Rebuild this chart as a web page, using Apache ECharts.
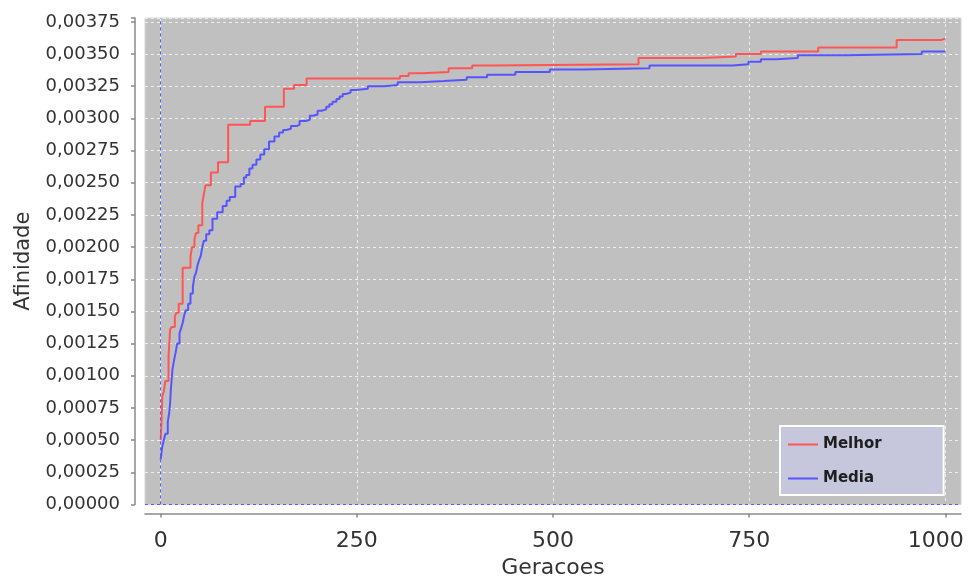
<!DOCTYPE html>
<html>
<head>
<meta charset="utf-8">
<script src="https://cdn.jsdelivr.net/npm/echarts@6/dist/echarts.min.js"></script>
<style>
  html, body { margin: 0; padding: 0; background: #ffffff; }
  #chart { width: 968px; height: 578px; }
</style>
</head>
<body>
<div id="chart"></div>
<script>
// Best affinity per generation ([generation, affinity]); held until the next change
const melhor = [
  [0, 0.00050], [1, 0.00064], [2, 0.00084], [4, 0.00088], [6, 0.00096],
  [10, 0.00115], [12, 0.00136], [14, 0.00138], [18, 0.00146], [20, 0.00149],
  [23, 0.00156], [28, 0.00184], [38, 0.00193], [40, 0.00200], [43, 0.00206],
  [45, 0.00211], [48, 0.00217], [53, 0.00234], [55, 0.00241], [57, 0.00248],
  [64, 0.00258], [73, 0.00266], [86, 0.00295], [114, 0.00298], [133, 0.00309],
  [157, 0.00323], [170, 0.00326], [186, 0.00331], [305, 0.00333], [316, 0.00335],
  [333, 0.00336], [367, 0.00339], [397, 0.00341], [421, 0.00342], [609, 0.00347],
  [690, 0.00348], [733, 0.00350], [765, 0.00352], [838, 0.00355], [938, 0.00361],
  [995, 0.00362], [1000, 0.00362]
];

// Mean affinity of the population per generation
const media = [
  [0, 0.00035], [1, 0.00040], [2, 0.00045], [4, 0.00050], [6, 0.00055],
  [9, 0.00064], [11, 0.00072], [12, 0.00079], [13, 0.00090], [14, 0.00097],
  [15, 0.00105], [17, 0.00112], [19, 0.00118], [21, 0.00125], [24, 0.00133],
  [26, 0.00137], [28, 0.00141], [30, 0.00147], [32, 0.00151], [35, 0.00156],
  [38, 0.00164], [41, 0.00169], [43, 0.00177], [45, 0.00180], [47, 0.00186],
  [49, 0.00190], [51, 0.00193], [53, 0.00200], [55, 0.00205], [58, 0.00210],
  [62, 0.00213], [66, 0.00222], [72, 0.00227], [79, 0.00232], [84, 0.00236],
  [88, 0.00239], [95, 0.00247], [102, 0.00249], [106, 0.00254], [109, 0.00256],
  [113, 0.00261], [117, 0.00264], [122, 0.00268], [127, 0.00272], [132, 0.00276],
  [138, 0.00282], [145, 0.00286], [151, 0.00289], [156, 0.00291], [160, 0.00292],
  [166, 0.00294], [173, 0.00295], [177, 0.00298], [185, 0.00299], [190, 0.00302],
  [194, 0.00303], [200, 0.00306], [205, 0.00307], [211, 0.00309], [215, 0.00311],
  [219, 0.00313], [224, 0.00315], [228, 0.00317], [232, 0.00319], [236, 0.00320],
  [242, 0.00322], [249, 0.00323], [264, 0.00325], [285, 0.00326], [302, 0.00328],
  [331, 0.00329], [361, 0.00330], [390, 0.00332], [416, 0.00334], [452, 0.00336],
  [496, 0.00338], [537, 0.00339], [623, 0.00341], [729, 0.00342], [749, 0.00344],
  [765, 0.00346], [785, 0.00347], [812, 0.00349], [872, 0.00350], [970, 0.00352],
  [1000, 0.00352]
];

const seriesNames = ['Melhor', 'Media'];
const xTickValues = [0, 250, 500, 750, 1000];
const yStep = 0.00025;

const FONT = 'DejaVu Sans';
const RED = '#ff5555';
const BLUE = '#5555ff';
const GRID_LINE = { color: '#ededed', type: [3, 3], width: 1 };
const AXIS_LINE = { color: '#8a8a8a', width: 1.5 };

function yLabel(v) {
  const k = v / yStep;
  if (Math.abs(k - Math.round(k)) > 1e-6) return '';
  return v.toFixed(5).replace('.', ',');
}

// The last generation label is nudged left so it stays inside the canvas
function xLabel(v) {
  return v === xTickValues[xTickValues.length - 1] ? '{edge|' + v + '}' : String(v);
}

const chart = echarts.init(document.getElementById('chart'), null, { renderer: 'canvas' });

chart.setOption({
  animation: false,
  grid: {
    left: 145, top: 18, right: 7, bottom: 73.5,
    outerBoundsMode: 'none',
    containLabel: false,
    show: true,
    backgroundColor: '#c0c0c0',
    borderColor: '#d4d4d4',
    borderWidth: 1
  },
  legend: {
    orient: 'vertical',
    left: 780, top: 426,
    padding: [11, 62, 9, 8],
    itemWidth: 30, itemHeight: 2, itemGap: 19,
    icon: 'rect',
    selectedMode: false,
    backgroundColor: '#c6c7dd',
    borderColor: '#ffffff',
    borderWidth: 2,
    textStyle: { fontFamily: FONT, fontWeight: 'bold', fontSize: 15, color: '#1e1e1e' },
    data: seriesNames
  },
  xAxis: {
    type: 'value',
    min: -20, max: 1020,
    offset: 9,
    name: 'Geracoes',
    nameLocation: 'middle',
    nameGap: 42,
    nameTextStyle: { fontFamily: FONT, fontSize: 22, color: '#333333' },
    axisLine: { show: true, onZero: false, lineStyle: AXIS_LINE },
    axisTick: { show: true, length: 4, customValues: xTickValues, lineStyle: AXIS_LINE },
    axisLabel: {
      customValues: xTickValues, fontFamily: FONT, fontSize: 22, color: '#333333', margin: 17,
      formatter: xLabel,
      rich: {
        edge: { fontFamily: FONT, fontSize: 22, color: '#333333', padding: [0, 19, 0, 0] }
      }
    },
    splitLine: { show: true, lineStyle: GRID_LINE }
  },
  yAxis: {
    type: 'value',
    min: 0, max: 0.00378, interval: yStep,
    offset: 10,
    name: 'Afinidade',
    nameLocation: 'middle',
    nameRotate: 90,
    nameGap: 101,
    nameTextStyle: { fontFamily: FONT, fontSize: 21, color: '#333333' },
    axisLine: { show: true, onZero: false, lineStyle: AXIS_LINE },
    axisTick: { show: true, length: 4, lineStyle: AXIS_LINE },
    axisLabel: { fontFamily: FONT, fontSize: 18, color: '#333333', margin: 15, formatter: yLabel },
    splitLine: { show: true, lineStyle: GRID_LINE }
  },
  series: [
    {
      name: seriesNames[0],
      type: 'line',
      step: 'end',
      data: melhor,
      showSymbol: false,
      symbol: 'none',
      itemStyle: { color: RED },
      lineStyle: { color: RED, width: 2 },
      z: 3,
      markLine: {
        silent: true,
        symbol: ['none', 'none'],
        label: { show: false },
        lineStyle: { color: '#5a5aff', type: [3, 3], width: 1 },
        data: [{ xAxis: 0 }, { yAxis: 0 }]
      }
    },
    {
      name: seriesNames[1],
      type: 'line',
      step: 'end',
      data: media,
      showSymbol: false,
      symbol: 'none',
      itemStyle: { color: BLUE },
      lineStyle: { color: BLUE, width: 2 },
      z: 2
    }
  ]
});
</script>
</body>
</html>
